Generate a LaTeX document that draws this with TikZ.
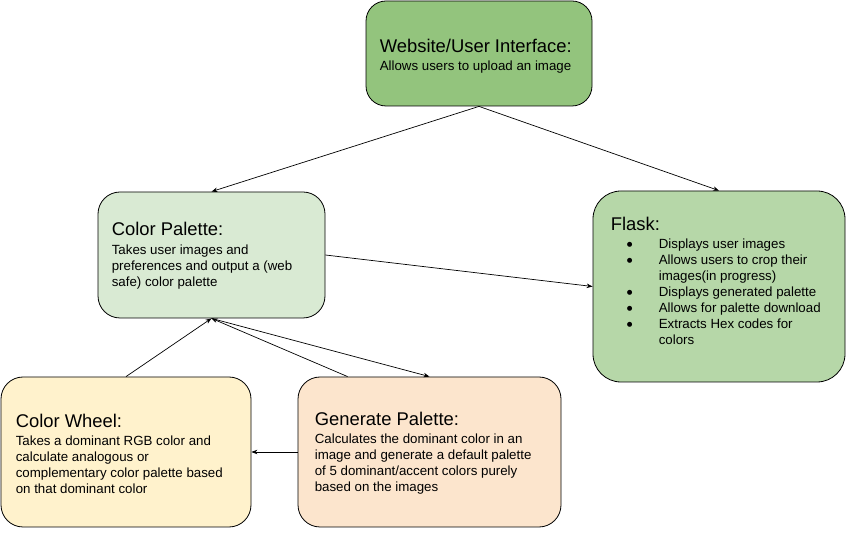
\documentclass[tikz,border=0pt]{standalone}
\usepackage{fontspec}
\setmainfont{Liberation Sans}
\newfontfamily\symfont{DejaVu Sans}
\usetikzlibrary{arrows.meta}
\definecolor{wuigreen}{HTML}{93C47D}
\definecolor{cpgreen}{HTML}{D9EAD3}
\definecolor{flaskgreen}{HTML}{B6D7A8}
\definecolor{cwyellow}{HTML}{FFF2CC}
\definecolor{gporange}{HTML}{FCE5CD}
\newcommand{\boxtitle}[1]{{\fontsize{18.4}{20}\selectfont #1}}
\newcommand{\bul}{\hspace*{16pt}\makebox[32pt][l]{\raisebox{2pt}{\symfont\fontsize{6.5}{8}\selectfont ●}}}
\tikzset{
    box/.style={draw=black, line width=0.8pt, rounded corners=22pt},
    txt/.style={anchor=west, align=left, inner sep=0pt, font=\fontsize{13.3}{16}\selectfont},
    arr/.style={-{Stealth[length=6pt,width=4.5pt]}, line width=0.7pt}
}
\begin{document}
\begin{tikzpicture}[x=1pt, y=-1pt]
    \useasboundingbox (0,0) rectangle (847,534);
    % boxes
    \node[box, fill=wuigreen, minimum width=226pt, minimum height=105pt, rounded corners=20pt] (wui) at (479,53.5) {};
    \node[box, fill=cpgreen, minimum width=227pt, minimum height=126pt] (cp) at (211.5,255) {};
    \node[box, fill=flaskgreen, minimum width=252pt, minimum height=191pt, rounded corners=28pt] (flask) at (719,286.5) {};
    \node[box, fill=cwyellow, minimum width=250pt, minimum height=150pt] (cw) at (126,452) {};
    \node[box, fill=gporange, minimum width=263pt, minimum height=150pt] (gp) at (429.5,452) {};
    % texts
    \node[txt] (wuitext) at ([xshift=14pt, yshift=-3pt]wui.west)
        {\boxtitle{Website/User Interface:}\\[2pt]Allows users to upload an image};
    \node[txt] (cptext) at ([xshift=14pt, yshift=-1pt]cp.west)
        {\boxtitle{Color Palette:}\\[3pt]Takes user images and\\preferences and output a (web\\safe) color palette};
    \node[txt] (flasktext) at ([xshift=18pt, yshift=6pt]flask.west)
        {\boxtitle{Flask:}\\[2pt]
        \bul Displays user images\\
        \bul Allows users to crop their\\
        \hspace*{48pt}images(in progress)\\
        \bul Displays generated palette\\
        \bul Allows for palette download\\
        \bul Extracts Hex codes for\\
        \hspace*{48pt}colors};
    \node[txt] (cwtext) at ([xshift=15pt, yshift=-1.5pt]cw.west)
        {\boxtitle{Color Wheel:}\\[2pt]Takes a dominant RGB color and\\calculate analogous or\\complementary color palette based\\on that dominant color};
    \node[txt] (gptext) at ([xshift=17pt, yshift=-1.5pt]gp.west)
        {\boxtitle{Generate Palette:}\\[2pt]Calculates the dominant color in an\\image and generate a default palette\\of 5 dominant/accent colors purely\\based on the images};
    % connectors
    \coordinate (gpleft) at ([xshift=50pt]gp.north west);
    \draw[arr] (wui.south) -- (cp.north);
    \draw[arr] (wui.south) -- (flask.north);
    \draw[arr] (cp.east) -- (flask.west);
    \draw[arr] (cw.north) -- (cp.south);
    \draw[arr] (gpleft) -- (cp.south);
    \draw[arr] (cp.south) -- (gp.north);
    \draw[arr] (gp.west) -- (cw.east);
\end{tikzpicture}
\end{document}
